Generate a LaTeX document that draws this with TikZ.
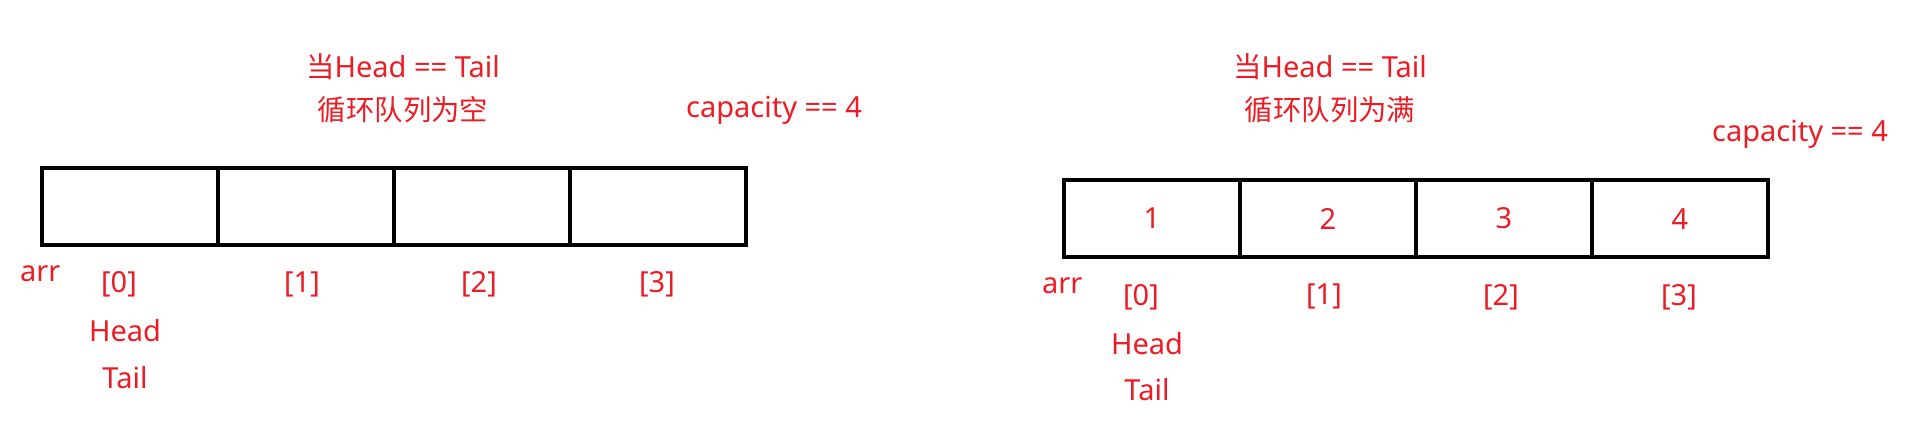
\documentclass[tikz,border=0pt]{standalone}
\usepackage{fontspec}
\setmainfont{Noto Sans}
\newfontfamily\cjk{Noto Sans CJK SC}[Scale=0.98]
\usetikzlibrary{positioning}
\definecolor{txtred}{RGB}{235,28,36}
\tikzset{
    x=1pt, y=-1pt, % one unit is one pixel, y runs downwards
    cell/.style={draw, line width=3.5pt, minimum width=176pt, minimum height=77pt, inner sep=0pt, text=txtred, font=\fontsize{29}{34}\selectfont}, % one slot of the array
    lbl/.style={text=txtred, font=\fontsize{29}{34}\selectfont, inner sep=0pt}, % every red label
    title/.style={lbl, align=center, font=\fontsize{29}{43}\selectfont},
    node distance=176pt, % one cell to the next
}
\begin{document}
\begin{tikzpicture}
    \useasboundingbox (0,0) rectangle (1920,441);
    % empty queue
    \node[title] (Ltitle) at (403,88.75) {{\cjk 当}Head == Tail\\{\cjk 循环队列为空}};
    \node[lbl] (Lcap) at (774,110.2) {capacity == 4};
    \node[cell] (L0) at (130,206.3) {};
    \node[cell, right of=L0] (L1) {};
    \node[cell, right of=L1] (L2) {};
    \node[cell, right of=L2] (L3) {};
    \foreach \i/\dx in {0/-11,1/-4,2/-3,3/-1}
        \node[lbl] (Lidx\i) at ([xshift=\dx pt, yshift=-38pt]L\i.south) {[\i]};
    \node[lbl] (Larr) at ([yshift=-27pt]L0.south west) {arr};
    \node[lbl, below of=Lidx0, node distance=46.5pt, xshift=6pt] (Lhead) {Head};
    \node[lbl, below of=Lhead, node distance=46.5pt] (Ltail) {Tail};
    % full queue
    \node[title] (Rtitle) at (1330,88.75) {{\cjk 当}Head == Tail\\{\cjk 循环队列为满}};
    \node[lbl] (Rcap) at (1800,134.7) {capacity == 4};
    \node[cell] (R0) at (1152,218.6) {1};
    \node[cell, right of=R0] (R1) {2};
    \node[cell, right of=R1] (R2) {3};
    \node[cell, right of=R2] (R3) {4};
    \foreach \i/\dx in {0/-11,1/-4,2/-3,3/-1}
        \node[lbl] (Ridx\i) at ([xshift=\dx pt, yshift=-38pt]R\i.south) {[\i]};
    \node[lbl] (Rarr) at ([yshift=-27pt]R0.south west) {arr};
    \node[lbl, below of=Ridx0, node distance=46.5pt, xshift=6pt] (Rhead) {Head};
    \node[lbl, below of=Rhead, node distance=46.5pt] (Rtail) {Tail};
\end{tikzpicture}
\end{document}
